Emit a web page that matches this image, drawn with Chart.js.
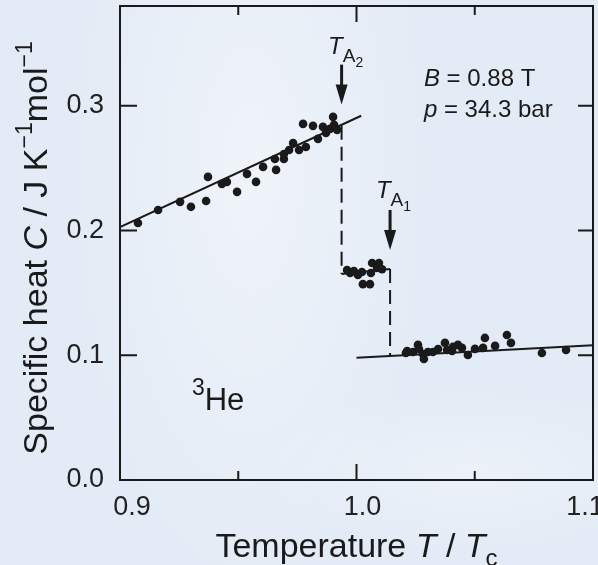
<!DOCTYPE html>
<html>
<head>
<meta charset="utf-8">
<script src="https://cdn.jsdelivr.net/npm/chart.js@4/dist/chart.umd.min.js"></script>
<style>
  html, body { margin: 0; padding: 0; }
  body {
    width: 598px; height: 565px; overflow: hidden;
    background:
      radial-gradient(ellipse 260px 620px at 250px 170px, rgba(255,255,255,0.45), rgba(255,255,255,0) 70%),
      radial-gradient(ellipse 300px 120px at 470px 470px, rgba(255,255,255,0.35), rgba(255,255,255,0) 70%),
      #e3ebf6;
  }
  canvas { display: block; }
</style>
</head>
<body>
<canvas id="chart" width="598" height="565"></canvas>
<script>
// Datos (T/Tc, C en J/K/mol)
const lowX = [0.9076, 0.9161, 0.9254, 0.9300, 0.9364, 0.9372, 0.9431, 0.9452, 0.9495, 0.9537,
              0.9575, 0.9605, 0.9655, 0.9660, 0.9693, 0.9693, 0.9715, 0.9732, 0.9757, 0.9786,
              0.9774, 0.9816, 0.9837, 0.9858, 0.9871, 0.9888, 0.9901, 0.9905, 0.9918];
const lowY = [0.206, 0.2165, 0.223, 0.219, 0.2237, 0.243, 0.2374, 0.239, 0.231, 0.2454,
              0.239, 0.251, 0.2574, 0.2486, 0.2574, 0.2614, 0.2646, 0.2702, 0.2646, 0.267,
              0.2855, 0.2839, 0.2735, 0.2831, 0.2783, 0.2815, 0.2911, 0.2847, 0.2807];

const midX = [0.9960, 0.9973, 0.9989, 1.0006, 1.0023, 1.0027, 1.0057, 1.0061, 1.0066, 1.0087, 1.0095, 1.0108];
const midY = [0.1684, 0.166, 0.1676, 0.1644, 0.1668, 0.157, 0.157, 0.166, 0.174, 0.170, 0.174, 0.169];

const highX = [1.0209, 1.0214, 1.0239, 1.0260, 1.0264, 1.0281, 1.0285, 1.0302, 1.0323, 1.0345,
               1.0374, 1.0383, 1.0404, 1.0408, 1.0429, 1.0446, 1.0471, 1.0501, 1.0535, 1.0543,
               1.0586, 1.0636, 1.0653, 1.0784, 1.0886];
const highY = [0.1018, 0.1034, 0.1026, 0.1083, 0.105, 0.101, 0.097, 0.1026, 0.1026, 0.105,
               0.1099, 0.1042, 0.1034, 0.1067, 0.1083, 0.1059, 0.1002, 0.1051, 0.1059, 0.1139,
               0.1075, 0.1163, 0.1099, 0.1018, 0.1042];

// Rectas de ajuste y saltos
const fitLowX = [0.9, 1.002];
const fitLowY = [0.2027, 0.292];
const fitHighX = [1.0, 1.1];
const fitHighY = [0.098, 0.108];
const plateauX = [0.9937, 1.0142];
const plateauY = [0.1652, 0.1692];
const jumpA2X = [0.9937, 0.9937];
const jumpA2Y = [0.284, 0.1652];
const jumpA1X = [1.0142, 1.0142];
const jumpA1Y = [0.1692, 0.0986];

// Flechas T_A2 y T_A1
const arrowX = [0.9937, 1.0142];
const arrowTop = [0.333, 0.2165];
const arrowTip = [0.301, 0.1844];

// Ejes
const xTickValues = [0.9, 1.0, 1.1];
const xTickLabels = ['0.9', '1.0', '1.1'];
const xMinorTicks = [0.95, 1.0, 1.05];
const yTickValues = [0.0, 0.1, 0.2, 0.3];
const yTickLabels = ['0.0', '0.1', '0.2', '0.3'];

const FONT = '"Liberation Sans", Arial, Helvetica, sans-serif';
const INK = '#1a1a1a';

function pts(xs, ys) {
    return xs.map((x, i) => ({ x: x, y: ys[i] }));
}

function puntos(xs, ys) {
    return {
        data: pts(xs, ys),
        pointRadius: 4.3,
        pointBackgroundColor: INK,
        pointBorderWidth: 0,
        showLine: false
    };
}

function recta(xs, ys, dash) {
    return {
        data: pts(xs, ys),
        showLine: true,
        pointRadius: 0,
        borderColor: INK,
        borderWidth: 2,
        borderDash: dash || [],
        fill: false
    };
}

// Dibuja texto en tramos (cursiva, superíndices, subíndices)
function tramos(ctx, x, y, runs, align) {
    let total = 0;
    runs.forEach(r => { ctx.font = r.font; total += ctx.measureText(r.t).width; });
    let cx = align === 'center' ? x - total / 2 : x;
    ctx.textBaseline = 'alphabetic';
    ctx.textAlign = 'left';
    runs.forEach(r => {
        ctx.font = r.font;
        ctx.fillText(r.t, cx, y + (r.dy || 0));
        cx += ctx.measureText(r.t).width;
    });
}

// Sin relleno automático para etiquetas: área fija 120..593 x 6..480
function sinRelleno(s) {
    s.paddingLeft = 0; s.paddingRight = 0;
    s.paddingTop = 0; s.paddingBottom = 0;
}

const decoracion = {
    id: 'decoracion',
    afterDatasetsDraw(chart) {
        const ctx = chart.ctx;
        const a = chart.chartArea;
        const sx = chart.scales.x, sy = chart.scales.y;
        ctx.save();
        ctx.strokeStyle = INK;
        ctx.fillStyle = INK;

        // Marco
        ctx.lineWidth = 2;
        ctx.strokeRect(a.left, a.top, a.right - a.left, a.bottom - a.top);

        // Marcas hacia dentro
        ctx.beginPath();
        xMinorTicks.forEach(v => {
            const px = sx.getPixelForValue(v);
            const len = Math.abs(v - 1.0) < 1e-9 ? 16 : 9;
            ctx.moveTo(px, a.bottom); ctx.lineTo(px, a.bottom - len);
            ctx.moveTo(px, a.top); ctx.lineTo(px, a.top + len);
        });
        yTickValues.slice(1).forEach(v => {
            const py = sy.getPixelForValue(v);
            ctx.moveTo(a.left, py); ctx.lineTo(a.left + 17, py);
            ctx.moveTo(a.right, py); ctx.lineTo(a.right - 15, py);
        });
        ctx.stroke();

        // Etiquetas del eje X (la última queda recortada en el borde, como en el original)
        const desplaz = [12, 6, -8];
        ctx.font = '27px ' + FONT;
        ctx.fillStyle = '#222';
        ctx.textAlign = 'center';
        ctx.textBaseline = 'alphabetic';
        xTickValues.forEach((v, i) => {
            ctx.fillText(xTickLabels[i], sx.getPixelForValue(v) + desplaz[i], a.bottom + 35);
        });
        ctx.fillStyle = INK;

        // Flechas
        arrowX.forEach((v, i) => {
            const px = sx.getPixelForValue(v);
            const y0 = sy.getPixelForValue(arrowTop[i]);
            const y1 = sy.getPixelForValue(arrowTip[i]);
            ctx.lineWidth = 3;
            ctx.beginPath();
            ctx.moveTo(px, y0); ctx.lineTo(px, y1 - 16);
            ctx.stroke();
            ctx.beginPath();
            ctx.moveTo(px - 6, y1 - 20);
            ctx.lineTo(px + 6, y1 - 20);
            ctx.lineTo(px, y1);
            ctx.closePath();
            ctx.fill();
        });

        // Etiquetas T_A2, T_A1
        const it = 'italic 24px ' + FONT;
        const sub = '19px ' + FONT;
        const sub2 = '14px ' + FONT;
        tramos(ctx, sx.getPixelForValue(0.9880), sy.getPixelForValue(0.3416), [
            { t: 'T', font: it }, { t: 'A', font: sub, dy: 8 }, { t: '2', font: sub2, dy: 13 }
        ]);
        tramos(ctx, sx.getPixelForValue(1.0082), sy.getPixelForValue(0.226), [
            { t: 'T', font: it }, { t: 'A', font: sub, dy: 8 }, { t: '1', font: sub2, dy: 13 }
        ]);

        // Condiciones
        const n = '24px ' + FONT, ni = 'italic 24px ' + FONT;
        tramos(ctx, sx.getPixelForValue(1.0285), sy.getPixelForValue(0.316), [
            { t: 'B', font: ni }, { t: ' = 0.88 T', font: n }
        ]);
        tramos(ctx, sx.getPixelForValue(1.0285), sy.getPixelForValue(0.291), [
            { t: 'p', font: ni }, { t: ' = 34.3 bar', font: n }
        ]);

        // 3He
        tramos(ctx, sx.getPixelForValue(0.9304), sy.getPixelForValue(0.0561), [
            { t: '3', font: '23px ' + FONT, dy: -15 }, { t: 'He', font: '31px ' + FONT }
        ]);

        // Título eje X
        const t = '34px ' + FONT, ti = 'italic 34px ' + FONT;
        tramos(ctx, (a.left + a.right) / 2, 557, [
            { t: 'Temperature ', font: t }, { t: 'T', font: ti }, { t: ' / ', font: t },
            { t: 'T', font: ti }, { t: 'c', font: '24px ' + FONT, dy: 9 }
        ], 'center');

        // Título eje Y
        ctx.translate(47, 248);
        ctx.rotate(-Math.PI / 2);
        const sup = '23px ' + FONT;
        tramos(ctx, 0, 0, [
            { t: 'Specific heat ', font: t }, { t: 'C', font: ti }, { t: ' / J K', font: t },
            { t: '\u22121', font: sup, dy: -15 }, { t: 'mol', font: t }, { t: '\u22121', font: sup, dy: -15 }
        ], 'center');

        ctx.restore();
    }
};

const lienzo = document.getElementById('chart');
new Chart(lienzo.getContext('2d'), {
    type: 'scatter',
    data: {
        datasets: [
            puntos(lowX, lowY),
            puntos(midX, midY),
            puntos(highX, highY),
            recta(fitLowX, fitLowY),
            recta(fitHighX, fitHighY),
            recta(plateauX, plateauY),
            recta(jumpA2X, jumpA2Y, [14, 7]),
            recta(jumpA1X, jumpA1Y, [14, 7])
        ]
    },
    options: {
        responsive: false,
        animation: false,
        layout: { padding: { top: 6, right: 5, left: 0, bottom: 0 } },
        plugins: { legend: { display: false }, tooltip: { enabled: false } },
        scales: {
            x: {
                type: 'linear', min: 0.9, max: 1.1,
                grid: { display: false, drawTicks: false },
                border: { display: false },
                afterBuildTicks: s => { s.ticks = xTickValues.map(v => ({ value: v })); },
                afterFit: s => { s.height = 85; sinRelleno(s); },
                ticks: { display: false }
            },
            y: {
                type: 'linear', min: 0, max: 0.38,
                grid: { display: false, drawTicks: false },
                border: { display: false },
                afterBuildTicks: s => { s.ticks = yTickValues.map(v => ({ value: v })); },
                afterFit: s => { s.width = 120; sinRelleno(s); },
                ticks: {
                    color: '#222', padding: 16,
                    font: { family: FONT, size: 27 },
                    callback: (v) => yTickLabels[yTickValues.findIndex(t => Math.abs(t - v) < 1e-9)]
                }
            }
        }
    },
    plugins: [decoracion]
});
</script>
</body>
</html>
